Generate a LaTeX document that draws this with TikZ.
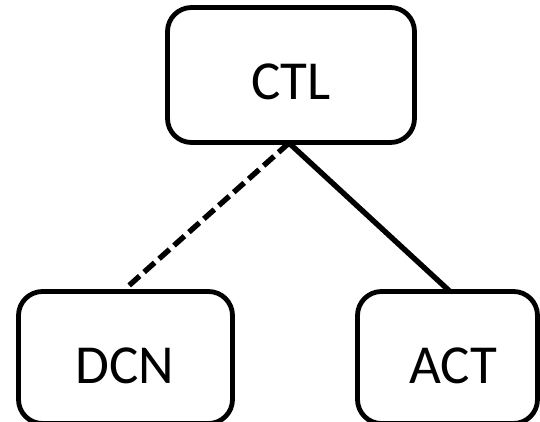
\documentclass[tikz,border=0pt]{standalone}
\usepackage{fontspec}
\setmainfont{Carlito}
\begin{document}
\begin{tikzpicture}[x=1pt,y=-1pt,
  box/.style={draw=black, line width=4.8pt, rounded corners=24pt, fill=white, inner sep=0pt},
  lbl/.style={font=\fontsize{55}{66}\selectfont, inner sep=0pt},
  link/.style={line width=5.4pt},
  dashlink/.style={line width=5.4pt, dash pattern=on 14pt off 6pt}]
  \useasboundingbox (0,0) rectangle (540,422);
  % upper box
  \node[box, minimum width=247pt, minimum height=135pt] (ctl) at (291,75) {};
  % lower boxes, partly cut off by the page edge
  \node[box, minimum width=214pt, minimum height=132pt] (dcn) at (125.5,357.5) {};
  \node[box, minimum width=180pt, minimum height=132pt] (act) at (447.5,357.5) {};
  % connectors
  \coordinate (top) at (289,143);
  \draw[dashlink] (top) -- (dcn.north -| 125,0);
  \draw[link] (top) -- (450,291.5) coordinate (actin);
  % labels
  \node[lbl] (tctl) at (291,82) {CTL};
  \node[lbl] (tdcn) at (125,366) {DCN};
  \node[lbl] (tact) at (453,366) {ACT};
\end{tikzpicture}
\end{document}
